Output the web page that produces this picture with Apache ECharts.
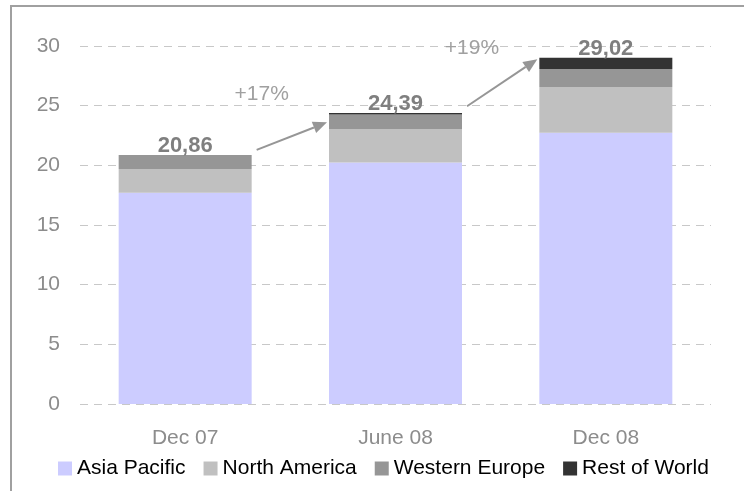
<!DOCTYPE html>
<html>
<head>
<meta charset="utf-8">
<script src="https://cdn.jsdelivr.net/npm/echarts@6/dist/echarts.min.js"></script>
<style>
  html, body { margin: 0; padding: 0; background: #fff; }
  #chart { width: 744px; height: 491px; }
</style>
</head>
<body>
<div id="chart"></div>
<script>
// Revenue split by region (stacked), three reporting dates
const categories = ['Dec 07', 'June 08', 'Dec 08'];
const asiaPacific = [17.70, 20.23, 22.72];
const northAmerica = [2.00, 2.82, 3.85];
const westernEurope = [1.16, 1.20, 1.51];
const restOfWorld = [0, 0.14, 0.94];
const totals = [20.86, 24.39, 29.02];
const growthLabels = ['+17%', '+19%'];
const yTicks = [0, 5, 10, 15, 20, 25, 30];

const FONT = 'Liberation Sans, Arial, sans-serif';
const BAR_W = 133;

const chart = echarts.init(document.getElementById('chart'), null, { renderer: 'canvas' });

function seg(name, data, color) {
  return {
    name, type: 'bar', stack: 'total', data,
    barWidth: BAR_W,
    itemStyle: { color },
    emphasis: { disabled: true }
  };
}

const rowSeries = seg('Rest of World', restOfWorld, '#333333');
rowSeries.label = {
  show: true,
  position: 'top',
  distance: -2,
  fontFamily: FONT,
  fontSize: 22,
  fontWeight: 'bold',
  color: '#7f7f7f',
  formatter: p => totals[p.dataIndex].toFixed(2).replace('.', ',')
};

chart.setOption({
  animation: false,
  textStyle: { fontFamily: FONT },
  grid: { left: 80, right: 33, top: 46, bottom: 87 },
  legend: {
    left: 53, top: 453,
    itemWidth: 14, itemHeight: 14, itemGap: 18,
    icon: 'rect',
    selectedMode: false,
    textStyle: { fontFamily: FONT, fontSize: 21, color: '#000' },
    data: ['Asia Pacific', 'North America', 'Western Europe', 'Rest of World']
  },
  xAxis: {
    type: 'category',
    data: categories,
    axisLine: { show: false },
    axisTick: { show: false },
    axisLabel: { color: '#8c8c8c', fontSize: 21, fontFamily: FONT, margin: 24 }
  },
  yAxis: {
    type: 'value',
    min: yTicks[0], max: yTicks[yTicks.length - 1], interval: 5,
    axisLine: { show: false },
    axisTick: { show: false },
    axisLabel: { color: '#8c8c8c', fontSize: 21, fontFamily: FONT, margin: 20 },
    splitLine: { lineStyle: { color: '#c8c8c8', type: [8, 6], width: 1 } }
  },
  series: [
    seg('Asia Pacific', asiaPacific, '#ccccff'),
    seg('North America', northAmerica, '#c0c0c0'),
    seg('Western Europe', westernEurope, '#969696'),
    rowSeries
  ]
});

// Growth arrows between consecutive totals, placed through the axis scales
const arrowFrom = [21.3, 24.95];
const arrowTo = [23.6, 28.9];
const growthY = [26.0, 29.85];
const graphics = [{
  type: 'rect',
  shape: { x: 11, y: 6, width: 760, height: 520 },
  style: { fill: 'none', stroke: '#a0a0a0', lineWidth: 2 },
  silent: true
}];
const ARROW = '#969696';
for (let i = 0; i < growthLabels.length; i++) {
  const a = chart.convertToPixel({ gridIndex: 0 }, [i, arrowFrom[i]]);
  const b = chart.convertToPixel({ gridIndex: 0 }, [i + 1, arrowTo[i]]);
  const x1 = a[0] + BAR_W / 2 + 5, y1 = a[1];
  const x2 = b[0] - BAR_W / 2 - 2, y2 = b[1];
  const dx = x2 - x1, dy = y2 - y1, len = Math.hypot(dx, dy);
  const ux = dx / len, uy = dy / len;
  const head = 14, half = 6;
  const bx = x2 - ux * head, by = y2 - uy * head;
  graphics.push({
    type: 'line',
    shape: { x1, y1, x2: bx, y2: by },
    style: { stroke: ARROW, lineWidth: 2 },
    silent: true
  });
  graphics.push({
    type: 'polygon',
    shape: { points: [[x2, y2], [bx - uy * half, by + ux * half], [bx + uy * half, by - ux * half]] },
    style: { fill: ARROW },
    silent: true
  });
  const t = chart.convertToPixel({ gridIndex: 0 }, [i, growthY[i]]);
  graphics.push({
    type: 'text',
    x: t[0] + BAR_W / 2 + 10, y: t[1],
    style: {
      text: growthLabels[i], fill: '#a0a0a0', font: '21px ' + FONT,
      align: 'center', verticalAlign: 'middle'
    },
    silent: true
  });
}
chart.setOption({ graphic: graphics });
</script>
</body>
</html>
